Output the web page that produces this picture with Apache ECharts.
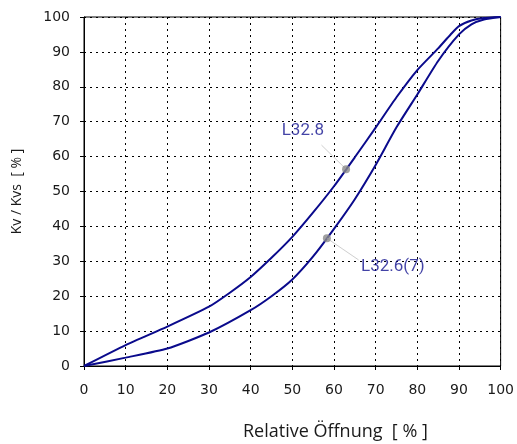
<!DOCTYPE html>
<html><head><meta charset="utf-8">
<script src="https://cdn.jsdelivr.net/npm/echarts@6/dist/echarts.min.js"></script>
<style>html,body{margin:0;padding:0;background:#fff}#c{width:517px;height:444px}</style>
</head><body><div id="c"></div>
<script>
var xTicks = [0,10,20,30,40,50,60,70,80,90,100];
var yTicks = [0,10,20,30,40,50,60,70,80,90,100];
var curveL328 = [[0,0],[10,6],[20,11.3],[30,17],[35,21],[40,25.5],[45,31],[50,37],[55,44],[60,51.5],[65,59.8],[70,68.3],[75,77],[80,84.8],[85,91],[88,95],[90,97.4],[93,99],[96,99.7],[100,100]];
var curveL326 = [[0,0],[10,2.4],[20,5],[30,9.6],[40,16],[45,20],[50,24.8],[55,31.4],[60,39.3],[65,47.8],[70,57.6],[75,68.4],[80,77.8],[85,87.4],[90,95],[93,97.9],[96,99.3],[100,100]];
var labelNames = ['L32.8','L32.6(7)'];
var markerPoints = [[62.9,56.4],[58.3,36.6]];
var leaderEnds = [[57.0,63.3],[65.9,30.4]];
var labelAnchors = [[57.6,67.3],[66.5,28.4]];

var chart = echarts.init(document.getElementById('c'));
var navy = '#0a0a8c';
var series = [
  {type:'line', data:curveL328, smooth:0.2, showSymbol:false, lineStyle:{color:navy,width:2}, silent:true, z:3},
  {type:'line', data:curveL326, smooth:0.2, showSymbol:false, lineStyle:{color:navy,width:2}, silent:true, z:3}
];
for (var i=0;i<labelNames.length;i++){
  series.push({type:'line', data:[markerPoints[i], leaderEnds[i]], showSymbol:false, lineStyle:{color:'#cfcfcf',width:1}, silent:true, z:4});
  series.push({type:'scatter', data:[markerPoints[i]], symbol:'circle', symbolSize:8, itemStyle:{color:'#8a8a8a'}, silent:true, z:5});
  series.push({type:'scatter', data:[labelAnchors[i]], symbolSize:0, silent:true, z:6,
    label:{show:true, formatter:labelNames[i], position:'inside', align: i===0?'right':'left',
      color:'#141490', fontFamily:'Roboto', fontSize:17, letterSpacing:-0.5}});
}
chart.setOption({
  animation:false,
  backgroundColor:'#fff',
  grid:{left:84,right:14,top:17,bottom:78,show:true,borderColor:'#000',borderWidth:1},
  title:{text:'Relative Öffnung  [ % ]', left:238, top:418, textStyle:{fontFamily:'Open Sans',fontSize:18,fontWeight:'normal',color:'#1a1a1a'}},
  xAxis:{type:'value',min:xTicks[0],max:xTicks[xTicks.length-1],interval:10,
    axisLine:{show:true,lineStyle:{color:'#000',width:1}},
    axisTick:{show:true,length:4,lineStyle:{color:'#000'}},
    axisLabel:{margin:17,fontFamily:'DejaVu Sans',fontSize:14,color:'#1a1a1a'},
    splitLine:{show:true,lineStyle:{color:'#000',type:[2,4],width:1}}},
  yAxis:{type:'value',min:yTicks[0],max:yTicks[yTicks.length-1],interval:10,
    name:'Kv / Kvs  [ % ]', nameLocation:'middle', nameGap:60,
    nameTextStyle:{fontFamily:'Open Sans',fontSize:14,color:'#1a1a1a'},
    axisLine:{show:true,lineStyle:{color:'#000',width:1}},
    axisTick:{show:true,length:4,lineStyle:{color:'#000'}},
    axisLabel:{margin:14,fontFamily:'DejaVu Sans',fontSize:14,color:'#1a1a1a'},
    splitLine:{show:true,lineStyle:{color:'#000',type:[2,4],width:1}}},
  series:series
});
</script></body></html>
